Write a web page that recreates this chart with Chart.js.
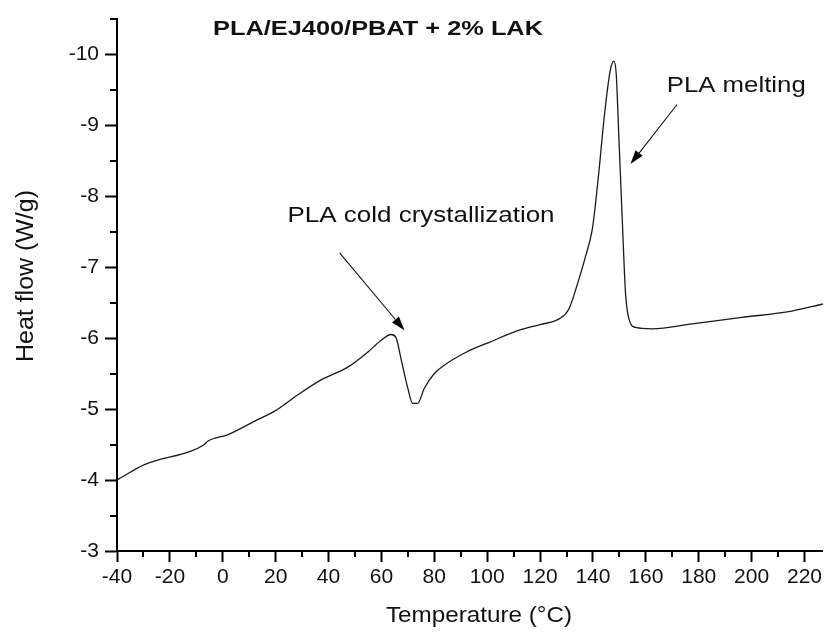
<!DOCTYPE html>
<html>
<head>
<meta charset="utf-8">
<script src="https://cdn.jsdelivr.net/npm/chart.js@4.4.1/dist/chart.umd.min.js"></script>
<style>
html, body { margin: 0; padding: 0; background: #fff; }
</style>
</head>
<body>
<canvas id="myChart" width="825" height="632"></canvas>
<script>
// DSC trace (temperature in °C, heat flow in W/g)
const temps = [-40, -29.4, -11.8, -7.4, -5.5, 2.0, 12.1, 19.6, 28.4, 37.2, 47.3, 54.8, 59.9, 63.7, 65.5,
	67.4, 70.0, 71.8, 73.7, 76.2, 80.0, 83.1, 92.0, 100.8, 112.1, 120.0, 127.2, 130.9, 134.7, 137.2,
	139.7, 141.0, 142.3, 143.5, 144.8, 146.6, 147.9, 148.8, 149.8, 151.1, 152.3, 153.6, 156.1, 162.4, 177.5, 196.3,
	215.2, 227.0];
const heatFlow = [-4.00, -4.22, -4.41, -4.49, -4.55, -4.64, -4.83, -4.97, -5.20, -5.41, -5.59, -5.80, -5.97, -6.05, -6.01,
	-5.71, -5.29, -5.08, -5.08, -5.29, -5.50, -5.60, -5.80, -5.94, -6.11, -6.19, -6.27, -6.41, -6.83, -7.15,
	-7.52, -7.90, -8.36, -8.83, -9.29, -9.78, -9.90, -9.72, -8.83, -7.66, -6.64, -6.27, -6.15, -6.13, -6.20, -6.29,
	-6.38, -6.48];

const xTicks = [-40, -20, 0, 20, 40, 60, 80, 100, 120, 140, 160, 180, 200, 220];
const yTicks = [-10, -9, -8, -7, -6, -5, -4, -3];
const xMinor = [-30, -10, 10, 30, 50, 70, 90, 110, 130, 150, 170, 190, 210];
const yMinor = [-10.5, -9.5, -8.5, -7.5, -6.5, -5.5, -4.5, -3.5];

const chartTitle = 'PLA/EJ400/PBAT + 2% LAK';
const xTitle = 'Temperature (°C)';
const yTitle = 'Heat flow (W/g)';

// annotations: label anchor and arrow (tail -> tip), in data units
const notes = [
	{ text: 'PLA cold crystallization', x: 24.5, y: -7.64, width: 267, tail: [44.2, -7.20], tip: [68.7, -6.11] },
	{ text: 'PLA melting', x: 167.9, y: -9.47, width: 139, tail: [171.8, -9.29], tip: [154.2, -8.45] }
];

const FONT = '"Liberation Sans", Arial, sans-serif';

// draws text squeezed/stretched to a given width
function fitText(ctx, text, x, y, font, width) {
	ctx.save();
	ctx.font = font;
	const w = ctx.measureText(text).width;
	ctx.translate(x, y);
	ctx.scale(width / w, 1);
	ctx.textAlign = 'left';
	ctx.textBaseline = 'alphabetic';
	ctx.fillText(text, 0, 0);
	ctx.restore();
}

function arrow(ctx, x1, y1, x2, y2) {
	const ang = Math.atan2(y2 - y1, x2 - x1);
	const len = 14, half = 4.5;
	ctx.save();
	ctx.strokeStyle = '#111';
	ctx.fillStyle = '#000';
	ctx.lineWidth = 1.1;
	ctx.beginPath();
	ctx.moveTo(x1, y1);
	ctx.lineTo(x2 - len * Math.cos(ang), y2 - len * Math.sin(ang));
	ctx.stroke();
	ctx.beginPath();
	ctx.moveTo(x2, y2);
	ctx.lineTo(x2 - len * Math.cos(ang) + half * Math.sin(ang), y2 - len * Math.sin(ang) - half * Math.cos(ang));
	ctx.lineTo(x2 - len * Math.cos(ang) - half * Math.sin(ang), y2 - len * Math.sin(ang) + half * Math.cos(ang));
	ctx.closePath();
	ctx.fill();
	ctx.restore();
}

const extras = {
	id: 'extras',
	afterDraw(chart) {
		const ctx = chart.ctx;
		const xs = chart.scales.x, ys = chart.scales.y;
		const area = chart.chartArea;

		// minor ticks
		ctx.save();
		ctx.strokeStyle = '#000';
		ctx.lineWidth = 2;
		ctx.beginPath();
		xMinor.forEach(v => {
			const px = Math.round(xs.getPixelForValue(v));
			ctx.moveTo(px, area.bottom);
			ctx.lineTo(px, area.bottom + 6);
		});
		yMinor.forEach(v => {
			const py = Math.round(ys.getPixelForValue(v));
			ctx.moveTo(area.left, py);
			ctx.lineTo(area.left - 7, py);
		});
		ctx.stroke();
		ctx.restore();

		ctx.fillStyle = '#111';
		// chart title
		fitText(ctx, chartTitle, 213, 35, 'bold 21px ' + FONT, 330);

		// axis titles
		fitText(ctx, xTitle, 386, 622, '22px ' + FONT, 186);
		ctx.save();
		ctx.translate(33, 362);
		ctx.rotate(-Math.PI / 2);
		fitText(ctx, yTitle, 0, 0, '23px ' + FONT, 172);
		ctx.restore();

		// annotations
		notes.forEach(n => {
			fitText(ctx, n.text, xs.getPixelForValue(n.x), ys.getPixelForValue(n.y), '22px ' + FONT, n.width);
			arrow(ctx,
				xs.getPixelForValue(n.tail[0]), ys.getPixelForValue(n.tail[1]),
				xs.getPixelForValue(n.tip[0]), ys.getPixelForValue(n.tip[1]));
		});
	}
};

const points = temps.map((t, i) => ({ x: t, y: heatFlow[i] }));

new Chart(document.getElementById('myChart'), {
	type: 'line',
	data: {
		datasets: [{
			data: points,
			borderColor: '#1a1a1a',
			borderWidth: 1.3,
			pointRadius: 0,
			fill: false,
			cubicInterpolationMode: 'monotone'
		}]
	},
	options: {
		responsive: false,
		animation: false,
		layout: { padding: { top: 12, right: 0, left: 0, bottom: 0 } },
		plugins: {
			legend: { display: false },
			tooltip: { enabled: false }
		},
		scales: {
			x: {
				type: 'linear',
				min: -40,
				max: 227,
				afterFit: s => { s.height = 81; },
				afterBuildTicks: s => { s.ticks = xTicks.map(v => ({ value: v })); },
				ticks: {
					font: { family: FONT, size: 21 },
					color: '#111',
					padding: 3,
					maxRotation: 0,
					autoSkip: false,
					callback: v => String(v)
				},
				grid: { drawOnChartArea: false, tickLength: 11, tickWidth: 2, tickColor: '#000' },
				border: { color: '#000', width: 2 }
			},
			y: {
				min: -10.5,
				max: -3,
				reverse: true,
				afterFit: s => { s.width = 117; },
				afterBuildTicks: s => { s.ticks = yTicks.map(v => ({ value: v })); },
				ticks: {
					font: { family: FONT, size: 21 },
					color: '#111',
					padding: 6,
					autoSkip: false,
					callback: v => String(v)
				},
				grid: { drawOnChartArea: false, tickLength: 12, tickWidth: 2, tickColor: '#000' },
				border: { color: '#000', width: 2 }
			}
		}
	},
	plugins: [extras]
});
</script>
</body>
</html>
